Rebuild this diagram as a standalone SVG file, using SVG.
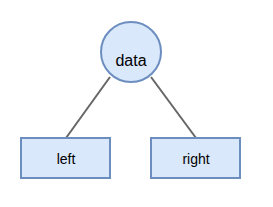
<svg xmlns="http://www.w3.org/2000/svg" width="273" height="207" viewBox="0 0 273 207">
<style>
.n{fill:#dae8fc;stroke:#6c8ebf;stroke-width:2}
.t{font-family:"Liberation Sans",Arial,sans-serif;fill:#000;text-anchor:middle}
.e{stroke:#666;stroke-width:2;fill:none}
</style>
<rect width="273" height="207" fill="#fff"/>
<g id="edges">
<line class="e" x1="110" y1="77" x2="66" y2="138"/>
<line class="e" x1="151" y1="77" x2="196" y2="138"/>
</g>
<g id="data">
<circle class="n" cx="131" cy="52" r="30"/>
<text class="t" x="131" y="66" font-size="16">data</text>
</g>
<g id="left">
<rect class="n" x="21" y="138" width="89" height="40"/>
<text class="t" x="66" y="164" font-size="14">left</text>
</g>
<g id="right">
<rect class="n" x="151" y="138" width="89" height="40"/>
<text class="t" x="196" y="164" font-size="14">right</text>
</g>
</svg>
